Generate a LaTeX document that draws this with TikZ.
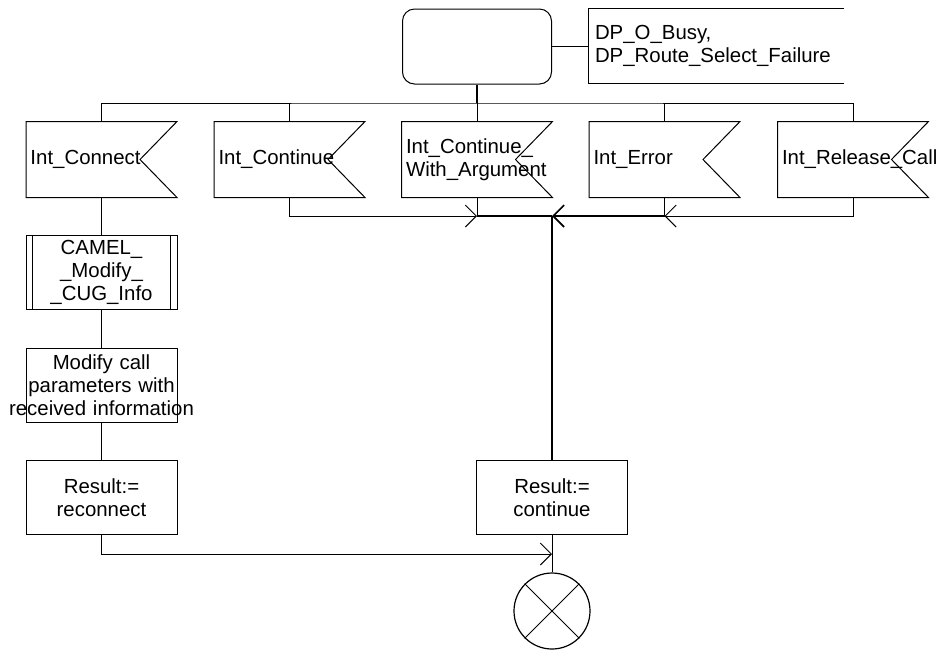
\documentclass[tikz,border=0pt]{standalone}
\usepackage{fontspec}
\setmainfont{Liberation Sans}
\usetikzlibrary{arrows.meta}

\begin{document}
\begin{tikzpicture}[x=0.5pt, y=-0.5pt, font=\fontsize{10.2}{11.5}\selectfont, line width=0.5pt, >={Straight Barb[length=5.5pt,width=11pt]}]
  \tikzstyle{startbox}=[draw, rounded corners=6pt, minimum width=74.5pt, minimum height=37.5pt]
  \tikzstyle{note}=[minimum width=127pt, minimum height=37pt, inner xsep=3pt, text width=121pt, align=left]
  \tikzstyle{sigbox}=[minimum width=75pt, minimum height=37.5pt, inner xsep=2pt, text width=71pt, align=left]
  \tikzstyle{task}=[draw, minimum width=75.5pt, minimum height=37pt, inner sep=0pt, text width=75.5pt, align=center]
  \useasboundingbox (0,0) rectangle (943,650);
  \node[startbox] (start) at (477,46.5) {};
  \node[note] (note) at (716,46) {DP\_O\_Busy,\\DP\_Route\_Select\_Failure};
  \node[sigbox] (connect) at (101.5,159.5) {Int\_Connect};
  \node[sigbox] (cont) at (289.5,159.5) {Int\_Continue};
  \node[sigbox] (contarg) at (477,159.5) {Int\_Continue\_\\With\_Argument};
  \node[sigbox] (error) at (664.5,159.5) {Int\_Error};
  \node[sigbox] (release) at (853,159.5) {Int\_Release\_Call};
  \node[task] (modcug) at (101.5,272) {CAMEL\_\\\_Modify\_\\\_CUG\_Info};
  \node[task] (modify) at (101.5,385) {Modify call\\parameters with\\\makebox[75.5pt]{received information}};
  \node[task] (reconn) at (101.5,497.5) {Result:=\\reconnect\\[7pt]};
  \node[task] (result) at (552,497.5) {Result:=\\continue};
  \node[draw, circle, semithick, minimum size=38pt, inner sep=0pt] (stop) at (552,611) {};
  \coordinate (bus) at (477,103);
  \coordinate (j1) at (477,216);
  \coordinate (j2) at (552,216);
  \coordinate (j3) at (664.5,216);
  \coordinate (j4) at (552,554);
  \foreach \s in {connect,cont,contarg,error,release}
    \draw (\s.north west) -- (\s.north east) -- ([xshift=-18.5pt]\s.east) -- (\s.south east) -- (\s.south west) -- cycle;
  \draw (note.north east) -- (note.north west) -- (note.south west) -- (note.south east);
  \draw ([xshift=3.5pt]modcug.north west) -- ([xshift=3.5pt]modcug.south west);
  \draw ([xshift=-3.5pt]modcug.north east) -- ([xshift=-3.5pt]modcug.south east);
  \draw (stop.north west) -- (stop.south east);
  \draw (stop.north east) -- (stop.south west);
  \draw (start.east) -- (start.east -| note.west);
  \draw[thick] (start) -- (bus);
  \draw (connect.north) |- (bus) -| (release.north);
  \foreach \s in {cont,contarg,error}
    \draw (\s.north) -- (\s.north |- bus);
  \draw (connect) -- (modcug);
  \draw (modcug) -- (modify);
  \draw (modify) -- (reconn);
  \draw[->] (reconn) |- (j4);
  \draw[->] (cont) |- (j1);
  \draw (contarg) -- (j1);
  \draw[thick] (j1) -- (j2);
  \draw (error) -- (j3);
  \draw[->] (release) |- (j3);
  \draw[->, thick] (j3) -- (j2);
  \draw[thick] (j2) -- (result);
  \draw (result) -- (stop);
\end{tikzpicture}
\end{document}
